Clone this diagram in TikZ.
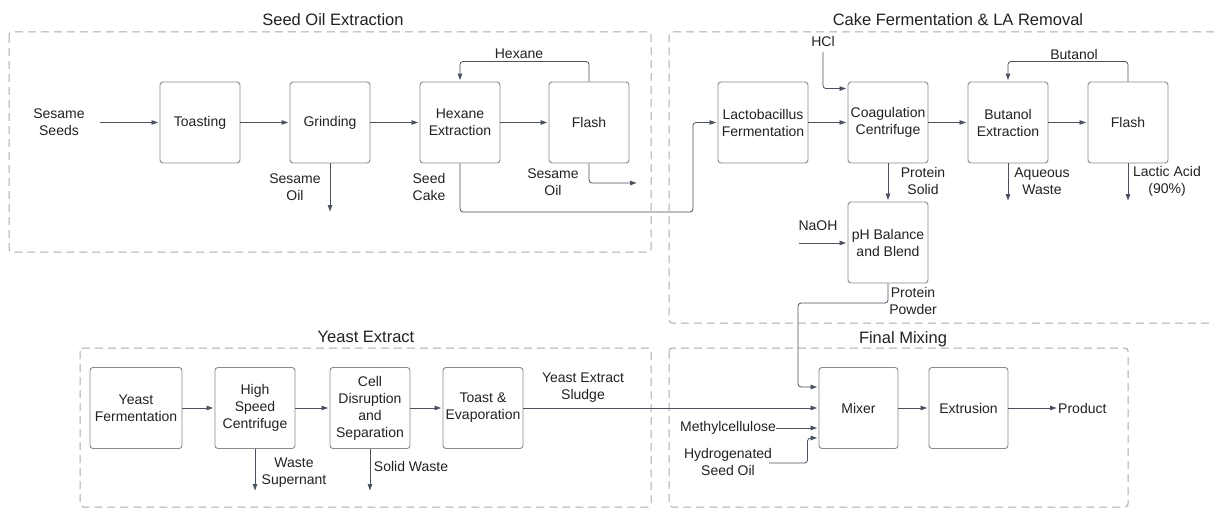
\documentclass[tikz,border=0pt]{standalone}
\usepackage{fontspec}
\setmainfont{Liberation Sans}
\usetikzlibrary{arrows.meta}
\definecolor{boxline}{HTML}{8A8A8A}
\definecolor{dashline}{HTML}{ABABAB}
\definecolor{connc}{HTML}{4A5260}
\definecolor{txt}{HTML}{222222}
\tikzset{
 unit/.style={draw=boxline, line width=0.9pt, rounded corners=3pt, minimum width=80pt, minimum height=81pt, align=center, inner sep=1pt, font=\fontsize{14}{17}\selectfont, text=txt},
 lbl/.style={align=center, inner sep=0pt, font=\fontsize{14}{17}\selectfont, text=txt},
 ttl/.style={inner sep=0pt, font=\fontsize{16.5}{20}\selectfont, text=txt},
 area/.style={draw=dashline, line width=1pt, dash pattern=on 8pt off 5pt, rounded corners=3pt},
 flow/.style={draw=connc, line width=0.8pt, rounded corners=3pt, shorten >=1.5pt, -{Triangle[length=6.5pt,width=4.5pt]}},
}
\begin{document}
\begin{tikzpicture}[x=1pt,y=-1pt]
\useasboundingbox (0,0) rectangle (1214,508);
\fill[white] (0,0) rectangle (1214,508);
% areas
\draw[area] (9,32) rectangle (651,252);
\draw[area] (1214,32) -- (669,32) -- (669,323) -- (1214,323);
\draw[area] (80,348) rectangle (651,507);
\draw[area] (669,348) rectangle (1128,507);
% titles
\node[ttl] (t1) at (333,20) {Seed Oil Extraction};
\node[ttl] (t2) at (958,20) {Cake Fermentation \& LA Removal};
\node[ttl] (t3) at (366,337) {Yeast Extract};
\node[ttl] (t4) at (903,339) {Final Mixing};
% units
\node[unit] (toast) at (200,122.5) {Toasting};
\node[unit] (grind) at (330,122.5) {Grinding};
\node[unit] (hexext) at (460,122.5) {Hexane\\Extraction};
\node[unit] (flashA) at (589,122.5) {Flash};
\node[unit, minimum width=90pt] (lacto) at (763,122.5) {Lactobacillus\\Fermentation};
\node[unit] (coag) at (888,122.5) {Coagulation\\Centrifuge};
\node[unit] (butext) at (1008,122.5) {Butanol\\Extraction};
\node[unit] (flashB) at (1128,122.5) {Flash};
\node[unit] (ph) at (888,242.5) {pH Balance\\and Blend};
\node[unit, minimum width=92pt] (yferm) at (136,408) {Yeast\\Fermentation};
\node[unit] (hsc) at (255,408) {High\\Speed\\Centrifuge};
\node[unit] (cell) at (370,408) {Cell\\Disruption\\and\\Separation};
\node[unit] (toastB) at (483,408) {Toast \&\\Evaporation};
\node[unit, minimum width=79pt] (mixer) at (858.5,408) {Mixer};
\node[unit, minimum width=79pt] (extr) at (968.5,408) {Extrusion};
% labels
\node[lbl] (seeds) at (59,122) {Sesame\\Seeds};
\coordinate (seedsout) at (100,122.5);
\node[lbl] (oilA) at (295,187) {Sesame\\Oil};
\coordinate (oilAend) at (330,213);
\node[lbl] (hexlbl) at (519,54) {Hexane};
\node[lbl] (cake) at (429,187) {Seed\\Cake};
\node[lbl] (oilB) at (553,182) {Sesame\\Oil};
\coordinate (oilBend) at (638,183);
\coordinate (cakebend) at (693,212);
\node[lbl] (hcl) at (823,41) {HCl};
\coordinate (hcl0) at (823,52);
\node[lbl] (butlbl) at (1074,54) {Butanol};
\node[lbl] (aq) at (1042,181) {Aqueous\\Waste};
\coordinate (aqend) at (1008,202);
\node[lbl] (la) at (1167,181) {Lactic Acid\\(90\%)};
\coordinate (laend) at (1128,202);
\node[lbl] (psol) at (923,181) {Protein\\Solid};
\node[lbl] (naoh) at (818,226) {NaOH};
\coordinate (naoh0) at (799,243);
\node[lbl] (ppow) at (913,301) {Protein\\Powder};
\coordinate (ppbend) at (798,303);
\node[lbl] (wsup) at (294,473) {Waste\\Supernant};
\coordinate (wsupend) at (255,492);
\node[lbl] (swaste) at (411,466) {Solid Waste};
\coordinate (swend) at (369,492);
\node[lbl] (sludge) at (583,388) {Yeast Extract\\Sludge};
\node[lbl] (methyl) at (728,428) {Methylcellulose};
\node[lbl] (hso) at (728,462) {Hydrogenated\\Seed Oil};
\coordinate (hso0) at (769,463);
\node[lbl, anchor=west] (prod) at (1058,408) {Product};
% connectors: seed oil
\draw[flow] (seedsout) -- (toast.west);
\draw[flow] (toast) -- (grind);
\draw[flow] (grind) -- (hexext);
\draw[flow] (hexext) -- (flashA);
\draw[flow] (grind.south) -- (oilAend);
\draw[flow] (flashA.north) -- ++(0,-20) -| (hexext.north);
\draw[flow] (flashA.south) |- (oilBend);
\draw[flow] (hexext.south) |- (cakebend) |- (lacto.west);
% cake fermentation
\draw[flow] (lacto) -- (coag);
\draw[flow] (hcl0) |- ([yshift=-7pt]coag.north west);
\draw[flow] (coag) -- (butext);
\draw[flow] (butext) -- (flashB);
\draw[flow] (flashB.north) -- ++(0,-20) -| (butext.north);
\draw[flow] (butext.south) -- (aqend);
\draw[flow] (flashB.south) -- (laend);
\draw[flow] (coag) -- (ph);
\draw[flow] (naoh0) -- (naoh0 -| ph.west);
\draw[flow] (ph.south) |- (ppbend) |- ([yshift=21pt]mixer.west);
% yeast
\draw[flow] (yferm) -- (hsc);
\draw[flow] (hsc) -- (cell);
\draw[flow] (cell) -- (toastB);
\draw[flow] (hsc.south) -- (wsupend);
\draw[flow] (cell.south) -- (cell.south |- swend);
\draw[flow] (toastB) -- (mixer);
% final mixing
\draw[flow] (methyl.east) -- ([yshift=-20pt]mixer.west);
\draw[flow] (hso0) -| ([xshift=-11pt,yshift=-30pt]mixer.west) -- ([yshift=-30pt]mixer.west);
\draw[flow] (mixer) -- (extr);
\draw[flow] (extr) -- (prod.west);
\end{tikzpicture}
\end{document}
